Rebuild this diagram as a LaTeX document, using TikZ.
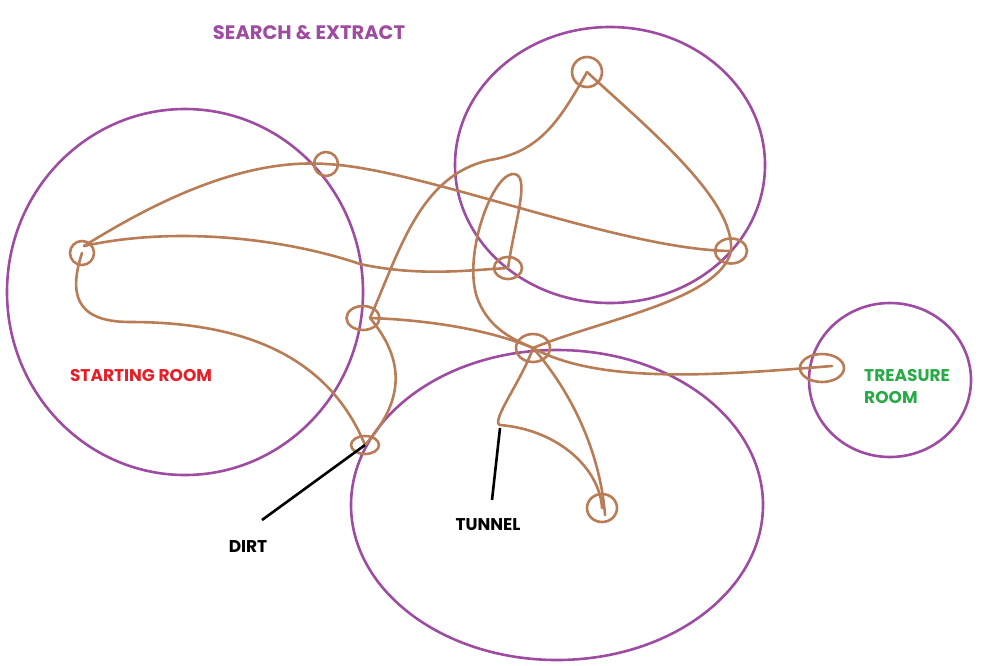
\documentclass[tikz,border=0pt]{standalone}
\usepackage{fontspec}
\setmainfont{Poppins}
\usetikzlibrary{shapes.geometric}
\definecolor{roompurple}{RGB}{158,76,162}
\definecolor{pathbrown}{RGB}{184,125,86}
\definecolor{startred}{RGB}{230,30,40}
\definecolor{treasgreen}{RGB}{40,170,70}
\tikzset{
  room/.style={draw=roompurple, line width=2.6pt, ellipse, inner sep=0pt},
  spot/.style={draw=pathbrown, line width=2.6pt, ellipse, inner sep=0pt},
  trail/.style={draw=pathbrown, line width=2.6pt, line cap=round},
  pointer/.style={draw=black, line width=2.6pt},
  lbl/.style={font=\fontsize{17}{22}\selectfont\bfseries, inner sep=0pt},
  biglbl/.style={font=\fontsize{19.5}{24}\selectfont\bfseries, inner sep=0pt}
}
\begin{document}
\begin{tikzpicture}[x=1pt,y=-1pt]
\useasboundingbox (0,0) rectangle (984,665);
% rooms
\node[room, minimum width=356pt, minimum height=366pt] (start) at (185,292) {};
\node[room, minimum width=310pt, minimum height=276pt] (upper) at (610,165) {};
\node[room, minimum width=412pt, minimum height=310pt] (lower) at (557,505) {};
\node[room, minimum width=162pt, minimum height=154pt] (treasure) at (890,380) {};
% spots
\node[spot, minimum width=24pt, minimum height=24pt] (A) at (82,253) {};
\node[spot, minimum width=24pt, minimum height=24pt] (B) at (326,164) {};
\node[spot, minimum width=30pt, minimum height=30pt] (C) at (587,72) {};
\node[spot, minimum width=28pt, minimum height=22pt] (D) at (508,268) {};
\node[spot, minimum width=32pt, minimum height=25pt] (E) at (731,251) {};
\node[spot, minimum width=33pt, minimum height=24pt] (F) at (363,318) {};
\node[spot, minimum width=34pt, minimum height=28pt] (G) at (533,348) {};
\node[spot, minimum width=44pt, minimum height=28pt] (H) at (822,368) {};
\node[spot, minimum width=28pt, minimum height=18pt] (I) at (365,445) {};
\node[spot, minimum width=30pt, minimum height=28pt] (J) at (602,508) {};
% trails
\draw[trail] (84,246) .. controls (150,205) and (240,158) .. (B.center)
  .. controls (420,168) and (620,250) .. (E.center);
\draw[trail] (84,246) .. controls (180,225) and (290,240) .. (360,264)
  .. controls (420,277) and (470,270) .. (D.center);
\draw[trail] (A.center) .. controls (70,290) and (72,322) .. (130,322)
  .. controls (250,322) and (330,360) .. (I.center);
\draw[trail] (C.center) .. controls (560,120) and (540,152) .. (490,160)
  .. controls (420,175) and (400,250) .. (370,318);
\draw[trail] (370,318) .. controls (405,360) and (405,400) .. (I.center);
\draw[trail] (C.center) .. controls (650,130) and (735,200) .. (E.center)
  .. controls (720,300) and (600,320) .. (G.center);
\draw[trail] (D.center) .. controls (515,220) and (532,172) .. (512,174)
  .. controls (490,178) and (462,260) .. (478,300)
  .. controls (490,330) and (515,340) .. (G.center);
\draw[trail] (370,318) .. controls (430,320) and (490,330) .. (G.center)
  .. controls (600,385) and (720,375) .. (832,366);
\draw[trail] (G.center) .. controls (522,380) and (490,422) .. (500,425)
  .. controls (560,430) and (600,470) .. (J.center);
\draw[trail] (G.center) .. controls (570,390) and (600,450) .. (605,515);
% labels
\node[biglbl, text=roompurple] (title) at (309,33) {SEARCH \& EXTRACT};
\node[lbl, text=startred] (startlbl) at (141,375) {STARTING ROOM};
\node[lbl, text=treasgreen, anchor=west] (treaslbl) at (864,375) {TREASURE};
\node[lbl, text=treasgreen, anchor=west] (roomlbl) at (864,397) {ROOM};
\node[lbl, text=black] (dirtlbl) at (248,547) {DIRT};
\node[lbl, text=black] (tunnellbl) at (488,525) {TUNNEL};
% pointers
\coordinate (dirtend) at (262,520);
\coordinate (tunnelpt) at (500,428);
\coordinate (tunnelend) at (492,500);
\draw[pointer] (dirtend) -- (I.center);
\draw[pointer] (tunnelend) -- (tunnelpt);
\end{tikzpicture}
\end{document}
